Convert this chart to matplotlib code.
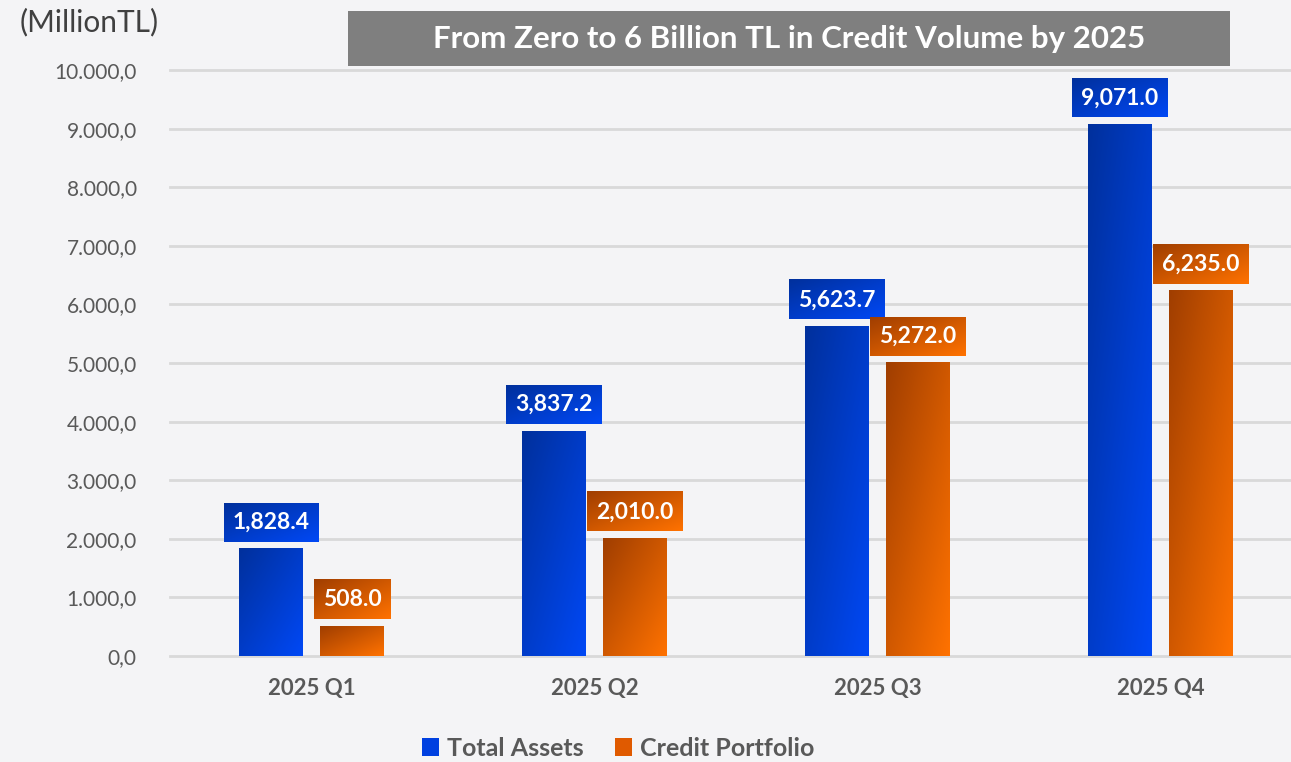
import numpy as np
import matplotlib
matplotlib.use('Agg')
import matplotlib.pyplot as plt
from matplotlib.colors import LinearSegmentedColormap
from matplotlib.patches import Rectangle, Patch

categories = ['2025 Q1', '2025 Q2', '2025 Q3', '2025 Q4']
total_assets = [1828.4, 3837.2, 5623.7, 9071.0]
credit_portfolio = [508.0, 2010.0, 5272.0, 6235.0]
# credit bar heights as drawn in the picture (Q3 bar sits lower than its label)
credit_bar_heights = [508.0, 2010.0, 5000.0, 6235.0]
y_ticks = [0, 1000, 2000, 3000, 4000, 5000, 6000, 7000, 8000, 9000, 10000]
y_tick_labels = ['0,0', '1.000,0', '2.000,0', '3.000,0', '4.000,0', '5.000,0',
                 '6.000,0', '7.000,0', '8.000,0', '9.000,0', '10.000,0']

plt.rcParams['font.family'] = ['Lato', 'DejaVu Sans']

blue_cmap = LinearSegmentedColormap.from_list('blue', ['#00309C', '#0048F5'])
orange_cmap = LinearSegmentedColormap.from_list('orange', ['#A03E00', '#FF7200'])

W, H = 1291, 762
fig = plt.figure(figsize=(W / 100, H / 100), dpi=100)
fig.patch.set_facecolor('#F4F4F6')
ax = fig.add_axes([170 / W, 1 - 656 / H, 4 * 283 / W, (656 - 70) / H])
ax.set_facecolor('#F4F4F6')
ax.set_xlim(-0.5, 3.5)
ax.set_ylim(0, 10000)
for s in ax.spines.values():
    s.set_visible(False)
for t in y_ticks:
    ax.axhline(t, color='#D9D9D9', lw=2, zorder=1, clip_on=False)
ax.set_yticks(y_ticks)
ax.set_yticklabels(y_tick_labels, fontsize=15, color='#595959')
ax.set_xticks(range(len(categories)))
ax.set_xticklabels(categories, fontsize=16, fontweight='bold', color='#595959')
ax.tick_params(axis='y', length=0, pad=24)
ax.tick_params(axis='x', length=0, pad=16)


def grad(n=64, m=64):
    j = np.linspace(0, 1, n)[None, :]
    i = np.linspace(0, 1, m)[:, None]
    return (j + i) / 2


bw = 0.226
off = 0.143
series = [(total_assets, total_assets, -off, blue_cmap),
          (credit_bar_heights, credit_portfolio, off, orange_cmap)]

texts = []
for heights, labels, dx, cmap in series:
    for k, (h, v) in enumerate(zip(heights, labels)):
        x0 = k + dx - bw / 2
        ax.imshow(grad(), cmap=cmap, extent=(x0, x0 + bw, 0, h), origin='upper',
                  aspect='auto', zorder=2, interpolation='bilinear')
        t = ax.text(k + dx, h, f'{v:,.1f}', ha='center', va='center', color='white',
                    fontsize=16.5, fontweight='bold', zorder=5)
        texts.append((t, k + dx, h, cmap))

fig.canvas.draw()
r = fig.canvas.get_renderer()
inv = ax.transData.inverted()
for t, xc, h, cmap in texts:
    px, py = ax.transData.transform((xc, h))
    bb = t.get_window_extent(renderer=r)
    half = bb.width / 2 + 9
    b0 = py + 7
    b1 = py + 46
    x0d, y0d = inv.transform((px - half, b0))
    x1d, y1d = inv.transform((px + half, b1))
    ax.imshow(grad(), cmap=cmap, extent=(x0d, x1d, y0d, y1d), origin='upper',
              aspect='auto', zorder=4, interpolation='bilinear', clip_on=False)
    t.set_position(inv.transform((px, (b0 + b1) / 2)))
ax.set_xlim(-0.5, 3.5)
ax.set_ylim(0, 10000)

# title box
fig.patches.append(Rectangle((348 / W, 1 - 66 / H), (1230 - 348) / W, 55 / H,
                             transform=fig.transFigure, facecolor='#7F7F7F',
                             edgecolor='none', zorder=0))
fig.text(789 / W, 1 - 39 / H, 'From Zero to 6 Billion TL in Credit Volume by 2025',
         ha='center', va='center', color='white', fontsize=22.5, fontweight='bold')
fig.text(20 / W, 1 - 22 / H, '(MillionTL)', ha='left', va='center',
         fontsize=21.5, color='#404040')

handles = [Patch(facecolor='#0040E0', label='Total Assets'),
           Patch(facecolor='#E05A00', label='Credit Portfolio')]
leg = fig.legend(handles=handles, loc='center', bbox_to_anchor=(618 / W, 1 - 748 / H),
                 ncol=2, frameon=False, handlelength=0.7, handleheight=0.7,
                 handletextpad=0.3, columnspacing=1.25, fontsize=18)
for tx in leg.get_texts():
    tx.set_color('#595959')
    tx.set_fontweight('bold')

fig.savefig('out.png', dpi=100, facecolor=fig.get_facecolor())
